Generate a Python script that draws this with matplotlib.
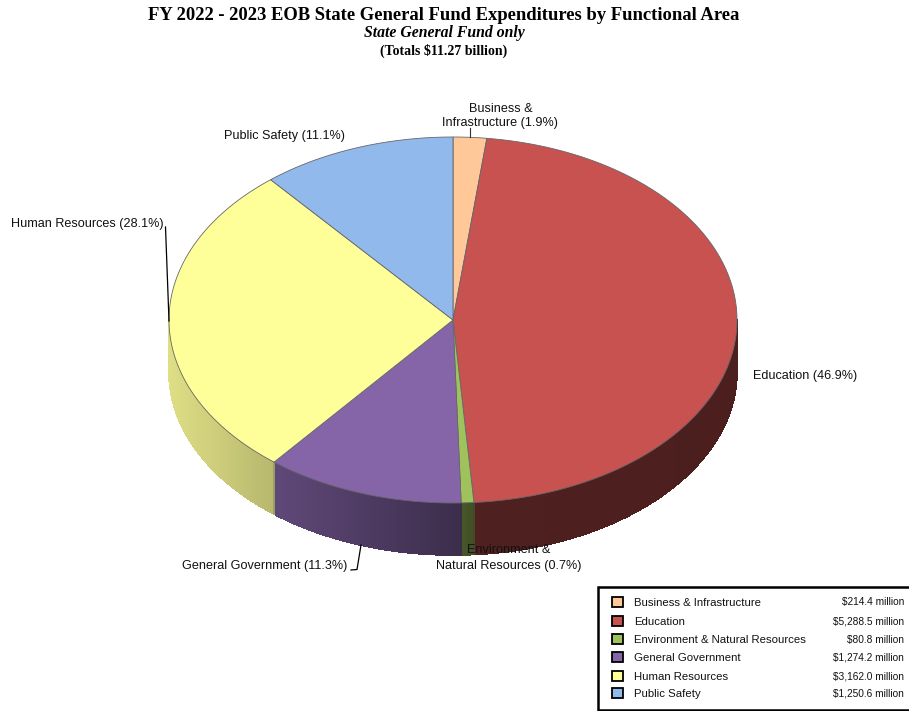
import numpy as np
import matplotlib
matplotlib.use("Agg")
import matplotlib.pyplot as plt
from matplotlib.patches import Polygon, Rectangle

# data
areas = ["Business & Infrastructure", "Education", "Environment & Natural Resources",
         "General Government", "Human Resources", "Public Safety"]
amounts = [214.4, 5288.5, 80.8, 1274.2, 3162.0, 1250.6]
colors = ["#ffc899", "#c85250", "#a0c25c", "#8565a8", "#ffff99", "#91b9ec"]

# pie geometry, in pixels of the picture
cx, cy = 453, 320
rx, ry = 284, 183
depth = 52

# brightness of the side wall, going left to right
shade_x = [169, 273, 460, 480, 737]
shade_v = [0.87, 0.72, 0.45, 0.39, 0.38]

plt.rcParams['font.family'] = ['Liberation Sans', 'DejaVu Sans']

fig = plt.figure(figsize=(9.09, 7.11), dpi=100)
ax = fig.add_axes([0, 0, 1, 1])
ax.set_xlim(0, 909)
ax.set_ylim(711, 0)
ax.axis("off")

total = sum(amounts)
fractions = np.array(amounts) / total
edges = np.concatenate([[0], np.cumsum(fractions)]) * 2 * np.pi


def rim(a):
    # angle runs clockwise from the top
    return cx + rx * np.sin(a), cy - ry * np.cos(a)


# side wall first
for i in range(len(amounts)):
    lo = max(edges[i], np.pi / 2)
    hi = min(edges[i + 1], 3 * np.pi / 2)
    if hi <= lo:
        continue
    n = max(2, int((hi - lo) * 120))
    aa = np.linspace(lo, hi, n + 1)
    base = np.array(matplotlib.colors.to_rgb(colors[i]))
    for a0, a1 in zip(aa[:-1], aa[1:]):
        x0, y0 = rim(a0)
        x1, y1 = rim(a1)
        f = np.interp((x0 + x1) / 2, shade_x, shade_v)
        c = base * f
        # no antialiasing here, else the seams between the strips show
        ax.add_patch(Polygon([[x0, y0], [x1, y1], [x1, y1 + depth], [x0, y0 + depth]],
                             facecolor=c, edgecolor=c, linewidth=0.5, antialiased=False, zorder=1))

# outline of the wall ends
for a in edges:
    if np.pi / 2 < a < 3 * np.pi / 2:
        x0, y0 = rim(a)
        ax.plot([x0, x0], [y0, y0 + depth], color="#3a3a3a", linewidth=0.3, zorder=2)

# top slices
for i in range(len(amounts)):
    aa = np.linspace(edges[i], edges[i + 1], max(3, int((edges[i + 1] - edges[i]) * 120)))
    xs, ys = rim(aa)
    pts = np.column_stack([np.r_[cx, xs], np.r_[cy, ys]])
    ax.add_patch(Polygon(pts, closed=True, facecolor=colors[i], edgecolor="#66666a",
                         linewidth=0.6, zorder=3))

# labels around the pie
pct = ["%.1f%%" % (f * 100) for f in fractions]
lab = dict(fontsize=9.1, color="#111111", zorder=6)
ax.text(500.5, 116, "Business &\nInfrastructure (%s)" % pct[0], ha="center", va="center",
        linespacing=1.27, **lab)
ax.text(753, 376.5, "Education (%s)" % pct[1], ha="left", va="center", **lab)
ax.text(508.5, 558, "Environment &\nNatural Resources (%s)" % pct[2], ha="center", va="center",
        linespacing=1.38, **lab)
ax.text(347.5, 566, "General Government (%s)" % pct[3], ha="right", va="center", **lab)
ax.text(163.5, 223.5, "Human Resources (%s)" % pct[4], ha="right", va="center", **lab)
ax.text(285, 135.5, "Public Safety (%s)" % pct[5], ha="center", va="center", **lab)

# leader lines
ax.plot([470, 470], [128, 137], color="#333333", linewidth=0.8, zorder=5)
ax.plot([165.5, 169], [227, 321], color="black", linewidth=0.9, zorder=5)
ax.plot([351, 357, 361], [570, 569.5, 545], color="black", linewidth=0.9, zorder=5)

# titles
ttl = dict(family=['Liberation Serif', 'DejaVu Serif'], ha="center", va="center", color="black")
ax.text(444, 15.5, "FY 2022 - 2023 EOB State General Fund Expenditures by Functional Area",
        fontsize=13.45, fontweight="bold", **ttl)
ax.text(444, 33, "State General Fund only", fontsize=11.3, fontweight="bold", style="italic", **ttl)
ax.text(444, 50.5, "(Totals $11.27 billion)", fontsize=10, fontweight="bold", **ttl)

# legend box
ax.add_patch(Rectangle((598, 587), 320, 123, facecolor="white", edgecolor="black", linewidth=1.8, zorder=4))
row_y = [602, 621, 639, 657, 676, 693]
for name, amount, col, y in zip(areas, amounts, colors, row_y):
    ax.add_patch(Rectangle((612, y - 5), 11, 10, facecolor=col, edgecolor="black", linewidth=1.3, zorder=5))
    ax.text(634, y + 0.7, name, ha="left", va="center", fontsize=8.2, color="#111111", zorder=6)
    ax.text(904, y + 0.5, "${:,.1f} million".format(amount), ha="right", va="center", fontsize=7.25,
            color="#111111", zorder=6)

fig.savefig("out.png", dpi=100)
